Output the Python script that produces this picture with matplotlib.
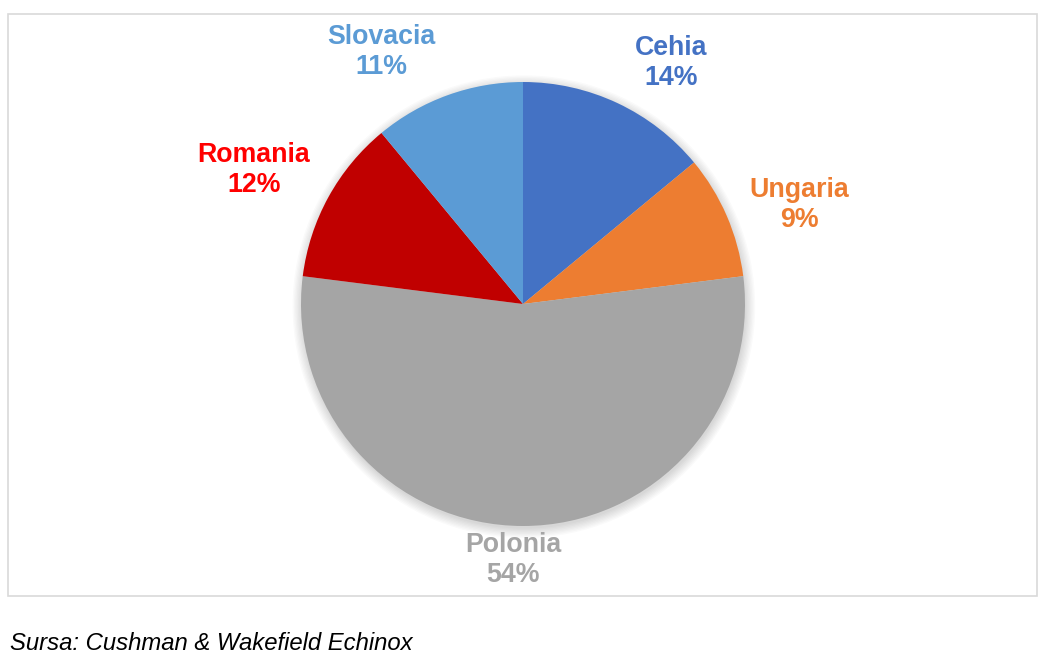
import matplotlib
matplotlib.use("Agg")
import matplotlib.pyplot as plt
from matplotlib.patches import Circle, Rectangle

countries = ["Cehia", "Ungaria", "Polonia", "Romania", "Slovacia"]
shares = [14, 9, 54, 12, 11]
wedge_colors = ["#4472C4", "#ED7D31", "#A5A5A5", "#C00000", "#5B9BD5"]
label_colors = ["#4472C4", "#ED7D31", "#A5A5A5", "#FF0000", "#5B9BD5"]
# label centres, in pie radius units
label_pos = [(0.667, 1.086), (1.243, 0.446), (-0.045, -1.153), (-1.212, 0.604), (-0.640, 1.135)]
source = "Sursa: Cushman & Wakefield Echinox"

plt.rcParams["font.family"] = ["Liberation Sans", "DejaVu Sans"]

W, H = 1057, 668
fig = plt.figure(figsize=(W / 100, H / 100), dpi=100)

# chart frame
fig.patches.append(Rectangle((8 / W, 1 - 596 / H), (1037 - 8) / W, (596 - 14) / H,
                             transform=fig.transFigure, fill=False, ec="#D9D9D9", lw=1.2))

cx, cy, r = 523, 304, 222
ax = fig.add_axes([(cx - r) / W, 1 - (cy + r) / H, 2 * r / W, 2 * r / H])

# soft shadow under the pie
for i in range(8):
    ax.add_patch(Circle((0.004, -0.012), 1.0 + 0.006 * i, color="black", alpha=0.018,
                        lw=0, zorder=0, clip_on=False))

ax.pie(shares, colors=wedge_colors, startangle=90, counterclock=False,
       wedgeprops=dict(linewidth=0), radius=1.0)

for name, val, col, (lx, ly) in zip(countries, shares, label_colors, label_pos):
    ax.text(lx, ly, f"{name}\n{val}%", ha="center", va="center", color=col,
            fontsize=19.3, fontweight="bold", linespacing=1.22)

ax.set_xlim(-1, 1)
ax.set_ylim(-1, 1)
ax.set_aspect("equal")
ax.axis("off")

fig.text(10 / W, 1 - 643 / H, source, ha="left", va="center", fontsize=17.2, style="italic")

fig.savefig("out.png", dpi=100)
